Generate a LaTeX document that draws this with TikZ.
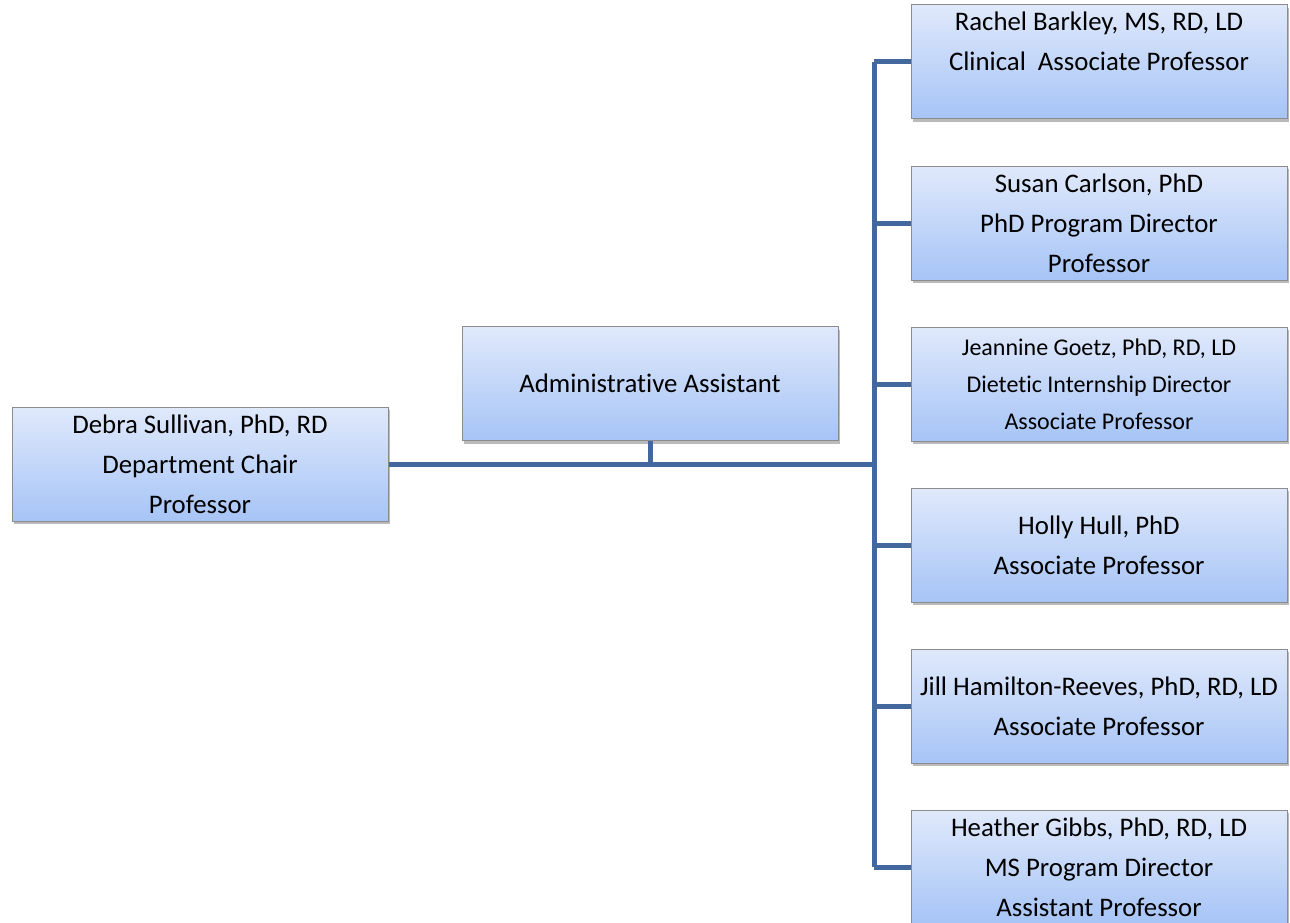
\documentclass[tikz,border=0pt]{standalone}
\usepackage{fontspec}
\setmainfont{Carlito}[Ligatures=CommonOff]
\usetikzlibrary{shadows}

\definecolor{linkblue}{RGB}{66,104,158}
\definecolor{boxtop}{RGB}{224,233,251}
\definecolor{boxbottom}{RGB}{166,196,246}
\definecolor{boxline}{RGB}{140,140,140}

\tikzset{
    person/.style={draw=boxline, line width=1pt, top color=boxtop, bottom color=boxbottom,
        minimum width=376pt, minimum height=114pt, inner sep=0pt, align=center,
        font=\fontsize{26.8}{40}\selectfont,
        drop shadow={shadow xshift=1.5pt, shadow yshift=-3pt, opacity=0.45, fill=black!60}},
    link/.style={draw=linkblue, line width=5pt}
}

\begin{document}
\begin{tikzpicture}[x=1pt, y=-1pt]
    \useasboundingbox (0,0) rectangle (1290,922);

    % chair and assistant
    \node[person] (chair) at (200,464) {Debra Sullivan, PhD, RD\\Department Chair\\Professor};
    \node[person] (assistant) at (650,383.5) {Administrative Assistant};

    % faculty column
    \node[person] (barkley) at (1099,61.5) {Rachel Barkley, MS, RD, LD\\Clinical\ \ Associate Professor\\\mbox{}};
    \node[person] (carlson) at (1099,223) {Susan Carlson, PhD\\PhD Program Director\\Professor};
    \node[person, font=\fontsize{24}{37}\selectfont] (goetz) at (1099,384) {Jeannine Goetz, PhD, RD, LD\\Dietetic Internship Director\\Associate Professor};
    \node[person] (hull) at (1099,545) {Holly Hull, PhD\\Associate Professor};
    \node[person] (reeves) at (1099,706) {Jill Hamilton-Reeves, PhD, RD, LD\\Associate Professor};
    \node[person] (gibbs) at (1099,867) {Heather Gibbs, PhD, RD, LD\\MS Program Director\\Assistant Professor};

    % connectors
    \coordinate (hub) at (874,464);
    \draw[link] (chair.east) -- (hub);
    \draw[link] (assistant.south) -- (assistant.south |- hub);
    \draw[link] (hub |- barkley.west) -- (hub |- gibbs.west);
    \foreach \who in {barkley, carlson, goetz, hull, reeves, gibbs}
        \draw[link] (hub |- \who.west) -- (\who.west);
\end{tikzpicture}
\end{document}
